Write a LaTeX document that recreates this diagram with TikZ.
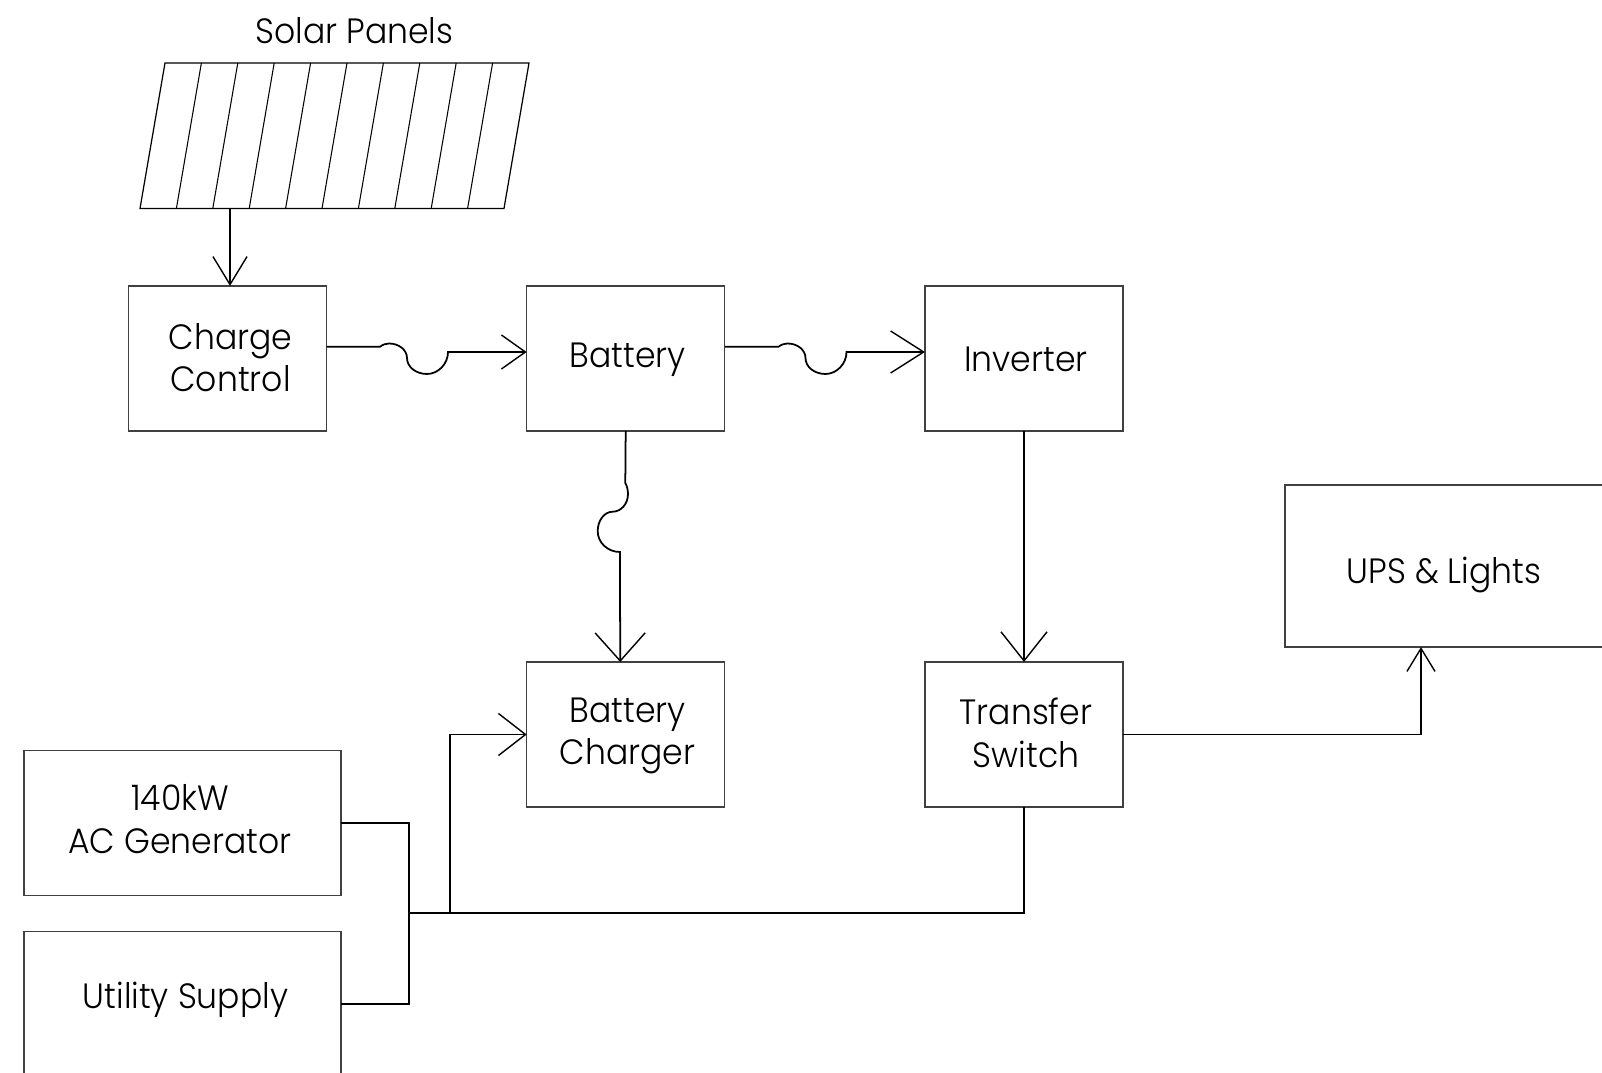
\documentclass[tikz,border=0pt]{standalone}
\usepackage{fontspec}
\setmainfont{Poppins}[UprightFont=* Light, FakeStretch=0.94]
\usetikzlibrary{arrows.meta, positioning}
\begin{document}
\begin{tikzpicture}[
  x=0.01cm, y=-0.01cm,
  wire/.style={line width=0.5pt, black},
  arr/.style 2 args={wire, -{Straight Barb[length=#1, width=#2, line width=0.4pt]}},
  lbl/.style={font=\fontsize{10}{12.2}\selectfont, align=center, inner sep=0pt},
  nodebox/.style={lbl, rectangle, draw=black!75, line width=0.35pt, outer sep=0pt, minimum width=1.98cm, minimum height=1.45cm, text depth=0pt}
]
\useasboundingbox (0,0) rectangle (1602,1073);

% solar array
\draw[line width=0.35pt] (165,63) -- (529,63) -- (504,208.5) -- (140,208.5) -- cycle;
\foreach \i in {1,...,9}
  \draw[line width=0.3pt] (140+\i*36.4,208.5) -- (165+\i*36.4,63);
\node[lbl] (title) at (354.5,30.6) {Solar Panels};
\coordinate (pv) at (230,208.5);

\node[nodebox, text height=0.668cm] (ctrl) at (227.5,358.5) {\hspace*{0.06cm}Charge\\\hspace*{0.06cm}Control};
\node[nodebox, text height=0.184cm] (batt) at (625.7,358.5) {\hspace*{0.04cm}Battery};
\node[nodebox, text height=0.25cm] (inv) at (1024,358.5) {\hspace*{0.04cm}Inverter};
\node[nodebox, text height=0.608cm] (chgr) at (625.7,734.5) {\hspace*{0.04cm}Battery\\\hspace*{0.04cm}Charger};
\node[nodebox, text height=0.662cm] (xfer) at (1024,734.5) {\hspace*{0.04cm}Transfer\\\hspace*{0.04cm}Switch};
\node[nodebox, minimum width=3.17cm, text height=0.61cm] (gen) at (182.5,823) {140kW\hspace*{0.05cm}\\AC Generator\hspace*{0.05cm}};
\node[nodebox, minimum width=3.17cm, minimum height=1.9cm, text height=0pt, text depth=0.356cm] (util) at (182.5,1026.8) {\hspace*{0.06cm}Utility Supply};
\node[nodebox, minimum width=3.3cm, minimum height=1.62cm, text height=0.34cm] (ups) at (1450,566) {UPS \& Lights\hspace{0.12cm}};

\coordinate (jn) at (409,913.2);
\coordinate (rise) at (449.6,913.2);

\draw[arr={0.28cm}{0.34cm}] (pv) -- ([xshift=0.025cm]ctrl.north);
\draw[arr={0.24cm}{0.34cm}] ([yshift=0.118cm]ctrl.east) -- (380,346.7)
  .. controls (383,344.5) and (386,343.5) .. (389,343.5)
  .. controls (399,343.5) and (407,350) .. (407,358)
  .. controls (407,367) and (416,374) .. (427,374)
  .. controls (438,374) and (448,364) .. (448,352) -- ([yshift=0.065cm]batt.west);
\draw[arr={0.33cm}{0.42cm}] ([yshift=0.118cm]batt.east) -- (778.5,346.7)
  .. controls (781.5,344.5) and (784.5,343.5) .. (787.5,343.5)
  .. controls (797.5,343.5) and (805.5,350) .. (805.5,358)
  .. controls (805.5,367) and (814.5,374) .. (825.5,374)
  .. controls (836.5,374) and (846.5,364) .. (846.5,352) -- ([yshift=0.065cm]inv.west);
\draw[arr={0.28cm}{0.5cm}] (batt.south) -- (625.3,483)
  .. controls (627,486) and (628,490) .. (628,494)
  .. controls (628,504) and (621,511.7) .. (612.7,511.7)
  .. controls (604,511.7) and (597.7,521) .. (597.7,531)
  .. controls (597.7,543) and (608,552) .. (620,552) -- ([xshift=-0.055cm]chgr.north);
\draw[arr={0.29cm}{0.46cm}] (inv.south) -- (xfer.north);
\draw[wire] (gen.east) -| (jn);
\draw[wire] ([yshift=0.225cm]util.east) -| (jn);
\draw[wire, line width=0.4pt] (jn) -| (xfer.south);
\draw[arr={0.27cm}{0.42cm}, line width=0.55pt] (rise) |- (chgr.west);
\draw[arr={0.23cm}{0.28cm}, line width=0.55pt] (xfer.east) -| ([xshift=-0.29cm]ups.south);
\end{tikzpicture}
\end{document}
